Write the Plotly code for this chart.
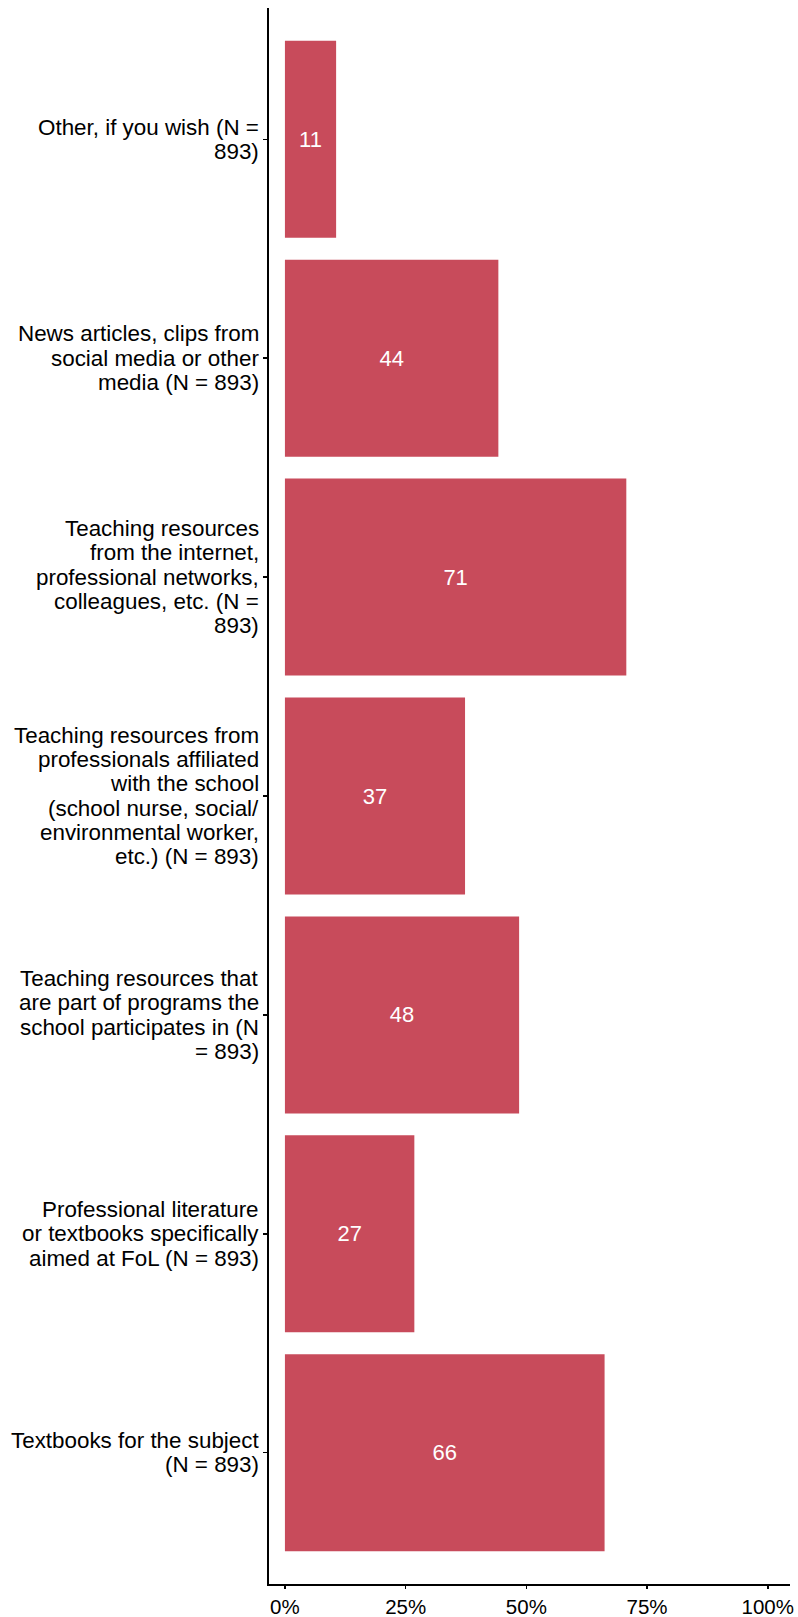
import plotly.graph_objects as go

categories = [
    "Other, if you wish (N = 893)",
    "News articles, clips from social media or other media (N = 893)",
    "Teaching resources from the internet, professional networks, colleagues, etc. (N = 893)",
    "Teaching resources from professionals affiliated with the school (school nurse, social/environmental worker, etc.) (N = 893)",
    "Teaching resources that are part of programs the school participates in (N = 893)",
    "Professional literature or textbooks specifically aimed at FoL (N = 893)",
    "Textbooks for the subject (N = 893)",
]
# wrapped label lines as shown in the chart
label_lines = [
    ["Other, if you wish (N =", "893)"],
    ["News articles, clips from", "social media or other", "media (N = 893)"],
    ["Teaching resources", "from the internet,", "professional networks,", "colleagues, etc. (N =", "893)"],
    ["Teaching resources from", "professionals affiliated", "with the school", "(school nurse, social/",
     "environmental worker,", "etc.) (N = 893)"],
    ["Teaching resources that", "are part of programs the", "school participates in (N", "= 893)"],
    ["Professional literature", "or textbooks specifically", "aimed at FoL (N = 893)"],
    ["Textbooks for the subject", "(N = 893)"],
]
values = [10.6, 44.2, 70.7, 37.3, 48.5, 26.8, 66.2]
bar_labels = ["11", "44", "71", "37", "48", "27", "66"]
tick_vals = [0, 25, 50, 75, 100]
tick_text = ["0%", "25%", "50%", "75%", "100%"]

BAR_COLOR = "#C84B5B"
FONT = "Liberation Sans, Arial, sans-serif"
LABEL_SIZE = 22.4
LINE_GAP = 24.3

fig = go.Figure(
    go.Bar(
        x=values,
        y=categories,
        orientation="h",
        marker=dict(color=BAR_COLOR, line=dict(width=0)),
        width=0.9,
        text=bar_labels,
        textposition="inside",
        insidetextanchor="middle",
        textangle=0,
        textfont=dict(color="white", size=22, family=FONT),
        hoverinfo="skip",
    )
)

annotations = []
for cat, lines in zip(categories, label_lines):
    n = len(lines)
    for i, line in enumerate(lines):
        annotations.append(dict(
            xref="paper", yref="y",
            x=0, y=cat,
            xanchor="right", yanchor="middle",
            xshift=-8,
            yshift=-(i - (n - 1) / 2) * LINE_GAP,
            text=line,
            showarrow=False,
            align="right",
            font=dict(size=LABEL_SIZE, color="black", family=FONT),
        ))

fig.update_layout(
    width=798,
    height=1617,
    margin=dict(l=269, r=8, t=8, b=33),
    paper_bgcolor="white",
    plot_bgcolor="white",
    showlegend=False,
    font=dict(family=FONT, size=21, color="black"),
    annotations=annotations,
)

fig.update_xaxes(
    range=[-3.3, 104.6],
    tickvals=tick_vals,
    ticktext=tick_text,
    showgrid=False,
    zeroline=False,
    showline=True,
    linecolor="black",
    linewidth=2,
    ticks="outside",
    ticklen=3,
    tickwidth=1.5,
    tickcolor="black",
    tickfont=dict(size=20.5, color="black", family=FONT),
    automargin=False,
    fixedrange=True,
)

fig.update_yaxes(
    type="category",
    categoryorder="array",
    categoryarray=categories,
    range=[6.6, -0.6],
    showgrid=False,
    zeroline=False,
    showline=True,
    linecolor="black",
    linewidth=2,
    ticks="outside",
    ticklen=4,
    tickwidth=1.5,
    tickcolor="black",
    showticklabels=False,
    automargin=False,
    fixedrange=True,
)

fig.write_html(
    "out.html",
    config={"displayModeBar": False, "staticPlot": True},
    post_script="document.body.style.margin='0';document.body.style.overflow='hidden';",
)
